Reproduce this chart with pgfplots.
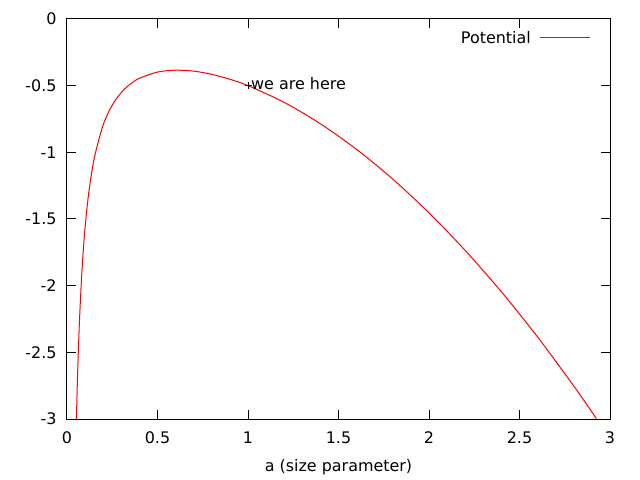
\documentclass[border=0pt]{standalone}
\usepackage{pgfplots}
\pgfplotsset{compat=1.18}
\usepackage{fontspec}
\setmainfont{DejaVu Sans}
\begin{document}
\begin{tikzpicture}
\begin{axis}[
    scale only axis,
    width=543bp, height=400bp,
    xmin=0, xmax=3,
    ymin=-3, ymax=0,
    xtick={0,0.5,1,1.5,2,2.5,3},
    xticklabels={0,0.5,1,1.5,2,2.5,3},
    ytick={-3,-2.5,-2,-1.5,-1,-0.5,0},
    yticklabels={-3,-2.5,-2,-1.5,-1,-0.5,0},
    tick align=inside,
    major tick length=9bp,
    tick style={black, line width=1bp},
    axis line style={line width=1bp},
    ticklabel style={font=\fontsize{16}{19}\selectfont},
    xticklabel style={anchor=center, yshift=-19bp},
    yticklabel style={anchor=east, xshift=-7bp},
    xlabel={a (size parameter)},
    xlabel style={font=\fontsize{16}{19}\selectfont,
        at={(axis description cs:0.5,0)}, anchor=center, yshift=-48bp},
    legend style={draw=none, fill=none, at={(1,1)}, anchor=north east,
        xshift=-16bp, yshift=-8bp,
        font=\fontsize{16}{19}\selectfont},
    legend plot pos=right,
    legend image code/.code={\draw[red, line width=1bp] (0,0) -- (50bp,0);},
    clip=true,
]
\addplot[red, line width=1bp, smooth] coordinates {
    (0.052,-3.001)(0.056,-2.787)(0.06,-2.601)(0.065,-2.402)(0.07,-2.230)(0.08,-1.952)
    (0.09,-1.736)(0.1,-1.563)(0.12,-1.305)(0.15,-1.048)(0.2,-0.794)
    (0.25,-0.646)(0.3,-0.551)(0.35,-0.488)(0.4,-0.445)(0.5,-0.398)
    (0.6,-0.384)(0.7,-0.391)(0.8,-0.415)(0.9,-0.452)(1.0,-0.500)
    (1.2,-0.625)(1.4,-0.786)(1.6,-0.978)(1.8,-1.201)(2.0,-1.454)
    (2.2,-1.736)(2.4,-2.046)(2.6,-2.385)(2.8,-2.753)(2.925,-2.997)
};
\addlegendentry{Potential\hspace*{7bp}}
\addplot[black, only marks, mark=+, mark size=3.5bp, line width=0.7bp, forget plot] coordinates {(1,-0.5)};
\node[anchor=west, inner sep=0pt, xshift=3bp, yshift=2bp, font=\fontsize{16}{19}\selectfont] at (axis cs:1,-0.5) {we are here};
\end{axis}
\path ([xshift=-67bp,yshift=-61bp]current axis.south west) rectangle ([xshift=30bp,yshift=19bp]current axis.north east);
\end{tikzpicture}
\end{document}
